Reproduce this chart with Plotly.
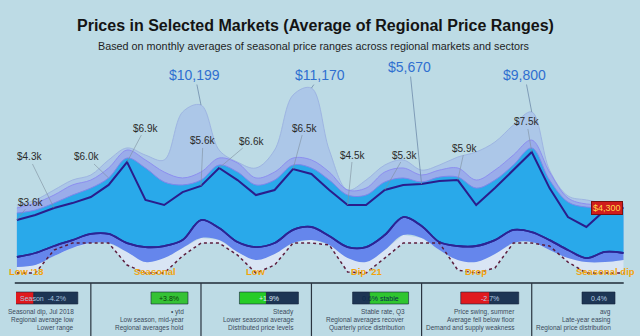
import pandas as pd
import plotly.graph_objects as go

# ---- data -----------------------------------------------------------------
months = pd.date_range("2018-05-01", periods=34, freq="2MS")

price_high = [4470, 4760, 5330, 5900, 6190, 7050, 7740, 7330, 7050, 9800,
              10199, 7620, 6930, 6590, 7620, 10770, 11170, 7620, 5330, 5900,
              6760, 7050, 6470, 6760, 7220, 7510, 8080, 9050, 9800, 6470,
              4990, 4760, 4580, 4470]
price_p75 = [4300, 4580, 5040, 5620, 5900, 6590, 7620, 7050, 6360, 6020,
             6360, 7160, 6880, 6020, 6360, 7160, 7050, 6360, 5330, 5440,
             6360, 6590, 6190, 6470, 6590, 5900, 6470, 7330, 8190, 6360,
             4870, 4530, 4530, 4530]
price_p60 = [4010, 4180, 4580, 5040, 5440, 6020, 7160, 6590, 5790, 5620,
             5900, 6760, 6360, 5620, 5900, 6760, 6590, 5900, 5040, 5040,
             5790, 6020, 5790, 6070, 6070, 5440, 5900, 6760, 7740, 5900,
             4640, 4350, 4350, 4350]
avg_price = [3610, 3900, 4300, 4580, 4930, 5620, 6930, 4760, 4470, 5210,
             5560, 6590, 5900, 5040, 5330, 6530, 6250, 5330, 4470, 4470,
             5330, 5620, 5670, 5840, 5900, 4470, 5440, 6470, 7510, 5440,
             3780, 3210, 4180, 4300]
price_p25 = [1490, 1720, 2120, 2460, 2810, 2810, 2290, 2060, 2120, 2460,
             3610, 3150, 2350, 2060, 2290, 3040, 3210, 2690, 2060, 2060,
             2750, 3780, 3270, 2350, 2120, 2120, 2460, 3040, 2920, 2460,
             1890, 1430, 1780, 1720]
price_low = [920, 1030, 1550, 2010, 2290, 2290, 1780, 1200, 1430, 2010,
             2580, 2460, 1780, 1320, 1660, 2290, 2460, 2180, 1430, 1200,
             1890, 2750, 2580, 1890, 1320, 1200, 1660, 2290, 2350, 1890,
             1430, 1200, 1200, 1320]
floor_price = [570, 570, 1890, 2290, 2290, 2290, 1030, 570, 570, 1550,
               2290, 2290, 1600, 570, 1030, 2290, 2290, 2180, 630, 570,
               1430, 2290, 2290, 2290, 740, 570, 860, 2290, 2290, 2120,
               1200, 570, 570, 570]

# peak call-outs (index into months, series name)
big_callouts = [(10, "high"), (16, "high"), (22, "avg"), (28, "high")]
small_callouts = [(0, "avg"), (2, "avg"), (5, "p60"), (6, "avg"), (10, "avg"),
                  (11, "avg"), (15, "avg"), (18, "avg"), (20, "avg"),
                  (24, "avg"), (28, "avg")]

dip_dates = ["2018-06-01", "2019-08-01", "2020-07-01", "2021-07-01",
             "2022-07-01", "2023-09-01"]
dip_labels = ["Low '18", "Seasonal", "Low", "Dip '21", "Drop", "Seasonal dip"]

year_breaks = ["2019-01-01", "2020-01-01", "2021-01-01", "2022-01-01", "2023-01-01"]
cell_ends = year_breaks + ["2023-11-16"]
badge_texts = ["Season  -4.2%", "+3.8%", "+1.9%", "0.6% stable", "-2.7%", "0.4%"]
cell_notes = [
    ["Seasonal dip, Jul 2018", "Regional average low", "Lower range"],
    ["\u2022 ytd", "Low season, mid-year", "Regional averages hold"],
    ["Steady", "Lower seasonal average", "Distributed price levels"],
    ["Stable rate, Q3", "Regional averages recover", "Quarterly price distribution"],
    ["Price swing, summer", "Average fell below floor", "Demand and supply weakness"],
    ["avg", "Late-year easing", "Regional price distribution"],
]

# ---- styling ----------------------------------------------------------------
BG = "#bddbe5"
FONT = "Liberation Sans"
series = {"high": price_high, "p60": price_p60, "avg": avg_price}

badge_parts = [
    [("#e0181c", 25), ("#1d3554", 44)],
    [("#35c235", 37)],
    [("#26cc26", 27), ("#1d3554", 32)],
    [("#1d3554", 17), ("#2fc62f", 39)],
    [("#e01a1e", 29), ("#1d3554", 29)],
    [("#1d3554", 33)],
]
badge_font = ["#a9c3df", "#0b3a0b", "#dfe9f5", "#0b2a4a", "#b9cde3", "#b9cde3"]

fig = go.Figure()


def band(base, top, fill, line_color, line_width, shape="spline"):
    fig.add_trace(go.Scatter(x=months, y=base, mode="lines", line=dict(width=0, shape=shape),
                             hoverinfo="skip"))
    fig.add_trace(go.Scatter(x=months, y=top, mode="lines", fill="tonexty", fillcolor=fill,
                             line=dict(color=line_color, width=line_width, shape=shape),
                             hoverinfo="skip"))


# outer high range envelope
band(price_p25, price_high, "rgba(166,193,233,0.78)", "#9eb5e2", 1)
# upper quartile haze
band(price_p25, price_p75, "rgba(128,136,236,0.42)", "#8d8ff0", 1)
# pale zone between the floor line and the lowest prices
band(floor_price, price_low, "rgba(222,230,247,0.85)", "rgba(0,0,0,0)", 0, shape="linear")
# lower band
band(price_low, price_p25, "#6586ec", "#2c2494", 1.8)
# main band
fig.add_trace(go.Scatter(x=months, y=price_p60, mode="lines", fill="tonexty", fillcolor="#29a9ea",
                         line=dict(color="#7f86ea", width=1, shape="spline"), hoverinfo="skip"))
# lower quartile edge redrawn above the fill
fig.add_trace(go.Scatter(x=months, y=price_p25, mode="lines",
                         line=dict(color="#2c2494", width=1.8, shape="spline"), hoverinfo="skip"))
# average price
fig.add_trace(go.Scatter(x=months, y=avg_price, mode="lines",
                         line=dict(color="#2a1d8c", width=2), hoverinfo="skip"))
# floor price
fig.add_trace(go.Scatter(x=months, y=floor_price, mode="lines",
                         line=dict(color="#5c1d3d", width=1.5, dash="dot"), hoverinfo="skip"))

annotations = []

# headline call-outs
big_offsets = [(-6, -30), (9, -13), (-12, -117), (-7, -37)]
for (i, key), (ax, ay) in zip(big_callouts, big_offsets):
    v = series[key][i]
    annotations.append(dict(x=months[i], y=v, xref="x", yref="y", text=f"${v:,}",
                            showarrow=True, arrowhead=0, arrowwidth=0.8, arrowcolor="#6f8bab",
                            ax=ax, ay=ay, standoff=0,
                            font=dict(family=FONT, size=14, color="#2f6fd0")))

# small point labels
small_offsets = [(14, -18), (-25, -51), (-22, -21), (18, -34), (2, -45), (32, -27),
                 (11, -41), (5, -50), (20, -35), (7, -32), (-5, -30)]
for (i, key), (ax, ay) in zip(small_callouts, small_offsets):
    v = series[key][i]
    annotations.append(dict(x=months[i], y=v, xref="x", yref="y", text=f"${v / 1000:.1f}k",
                            showarrow=True, arrowhead=0, arrowwidth=0.6, arrowcolor="#7d8e9e",
                            ax=ax, ay=ay, standoff=0,
                            font=dict(family=FONT, size=10, color="#2a2a2a")))

# latest value tag
annotations.append(dict(x=months[-1], y=avg_price[-1], xref="x", yref="y",
                        text=f"${avg_price[-1]:,}", showarrow=False, xanchor="right",
                        yanchor="middle",
                        bgcolor="#d01c1c", bordercolor="#7a1010", borderwidth=1, borderpad=1,
                        font=dict(family=FONT, size=9, color="#ffd84a")))

# dip labels
for d, t in zip(dip_dates, dip_labels):
    annotations.append(dict(x=d, y=min(floor_price), xref="x", yref="y", text=f"<b>{t}</b>",
                            showarrow=False, yshift=2, xanchor="center", yanchor="middle",
                            font=dict(family=FONT, size=9.5, color="#f2a40c")))

# title and subtitle
annotations.append(dict(x=0.49, y=1.1525, xref="paper", yref="paper", showarrow=False,
                        xanchor="center", yanchor="middle",
                        text="<b>Prices in Selected Markets (Average of Regional Price Ranges)</b>",
                        font=dict(family=FONT, size=16, color="#141414")))
annotations.append(dict(x=0.487, y=1.0628, xref="paper", yref="paper", showarrow=False,
                        xanchor="center", yanchor="middle",
                        text="Based on monthly averages of seasonal price ranges across regional markets and sectors",
                        font=dict(family=FONT, size=10.8, color="#1e1e1e")))

shapes = []
# panel rule and year dividers
shapes.append(dict(type="line", xref="paper", yref="paper", x0=-0.002, x1=0.993, y0=0, y1=0,
                   line=dict(color="#1f2a36", width=1.5)))
for b in year_breaks:
    shapes.append(dict(type="line", xref="x", yref="paper", x0=b, x1=b, y0=0, y1=-0.25,
                       line=dict(color="#2a3440", width=1.2)))

# status chips and notes per year
for end, parts, txt, fcol, notes in zip(cell_ends, badge_parts, badge_texts, badge_font, cell_notes):
    total = sum(w for _, w in parts)
    left = -13 - total
    for color, w in parts:
        shapes.append(dict(type="rect", xref="x", yref="paper", xsizemode="pixel",
                           ysizemode="pixel", xanchor=end, yanchor=0,
                           x0=left, x1=left + w, y0=-21, y1=-9,
                           fillcolor=color, line=dict(color="#16243a", width=0.6)))
        left += w
    annotations.append(dict(x=end, y=0, xref="x", yref="paper", showarrow=False,
                            xanchor="center", yanchor="middle",
                            xshift=-13 - total / 2, yshift=-15,
                            text=txt, font=dict(family=FONT, size=7, color=fcol)))
    for k, line in enumerate(notes):
        annotations.append(dict(x=end, y=0, xref="x", yref="paper", showarrow=False,
                                xanchor="right", yanchor="middle",
                                xshift=-15, yshift=-29 - 8 * k,
                                text=line, font=dict(family=FONT, size=6.5, color="#3b4a5c")))

fig.update_layout(
    width=640, height=336,
    margin=dict(l=16, r=12, t=60, b=53),
    paper_bgcolor=BG, plot_bgcolor=BG,
    showlegend=False,
    xaxis=dict(type="date", range=["2018-04-28", "2023-11-16"], visible=False),
    yaxis=dict(range=[0, 12780], visible=False),
    annotations=annotations,
    shapes=shapes,
)

fig.write_html("out.html")
